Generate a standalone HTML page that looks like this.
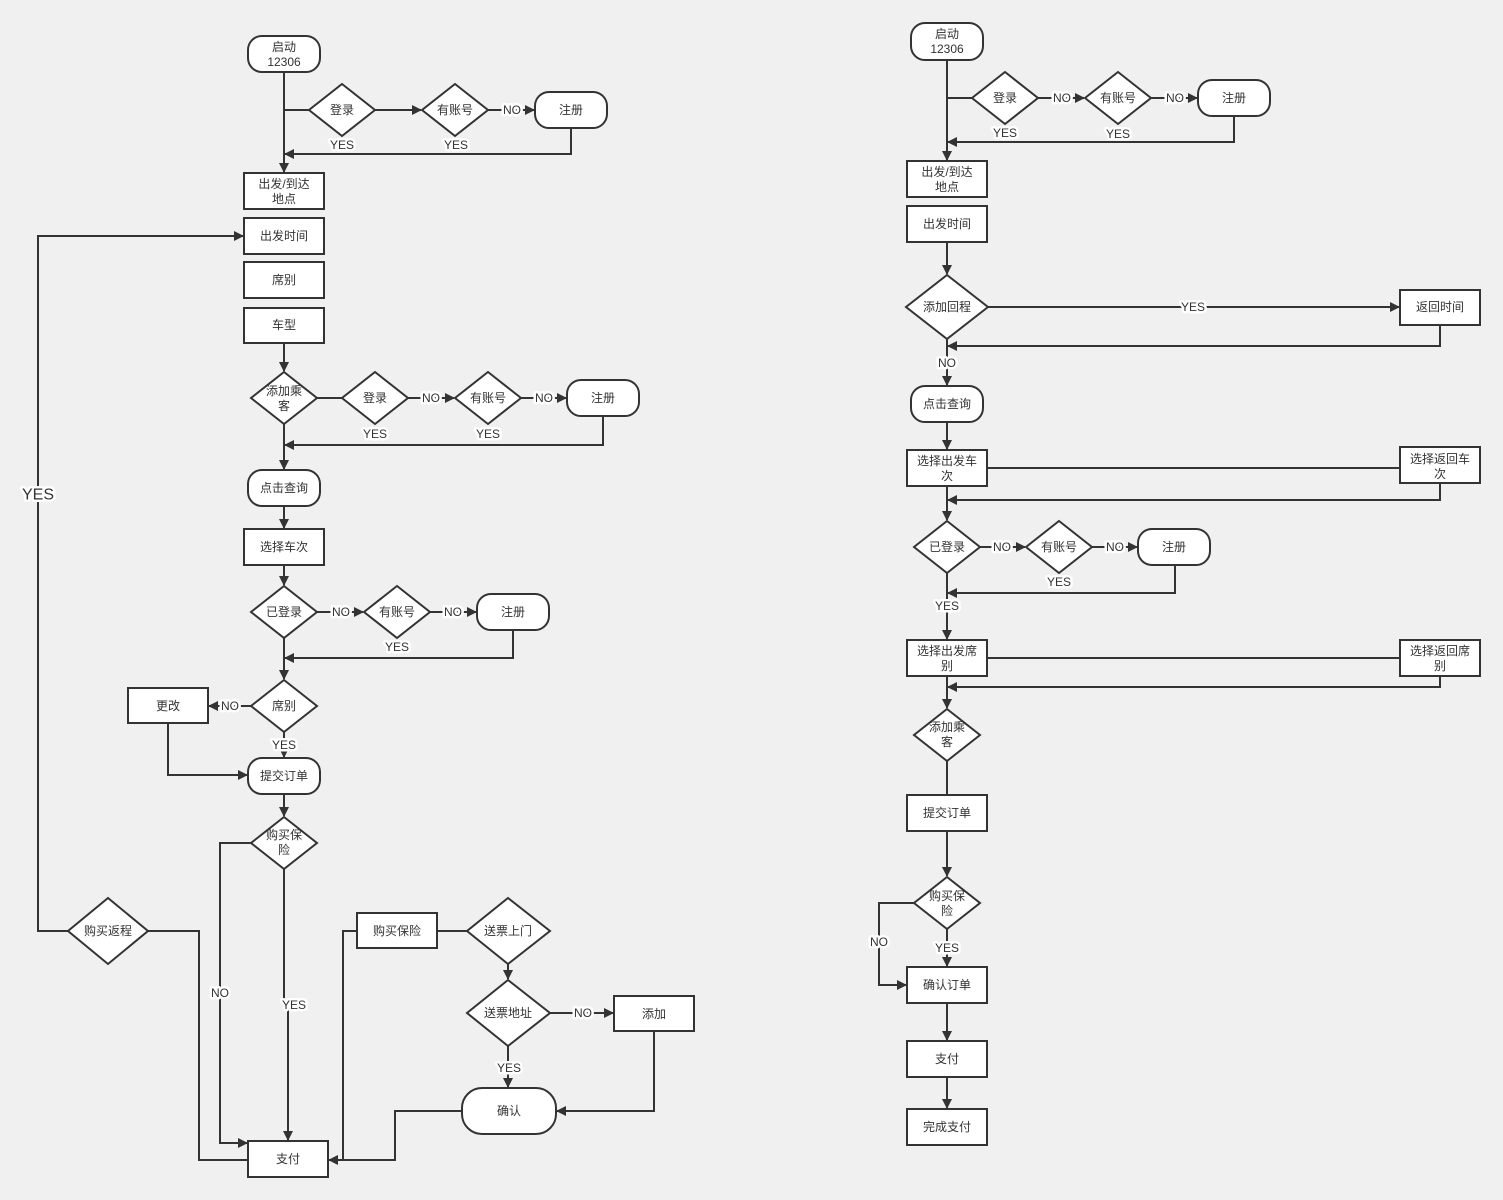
<!DOCTYPE html>
<html><head><meta charset="utf-8"><style>
html,body{margin:0;padding:0;background:#f0f0f0;}
svg{display:block}
text{font-family:"Liberation Sans","Noto Sans CJK SC",sans-serif;font-size:12px;fill:#333;text-anchor:middle;dominant-baseline:central}
.s{fill:#fff;stroke:#333;stroke-width:2}
.l{fill:none;stroke:#333;stroke-width:2}
.lb{stroke:#fff;stroke-width:5;paint-order:stroke;stroke-linejoin:round}
</style></head><body>
<svg width="1503" height="1200" viewBox="0 0 1503 1200" xmlns="http://www.w3.org/2000/svg">
<defs><marker id="a" markerWidth="10" markerHeight="10" refX="9" refY="5" orient="auto" markerUnits="userSpaceOnUse"><path d="M0,0 L10,5 L0,10 z" fill="#333"/></marker></defs>
<rect width="1503" height="1200" fill="#f0f0f0"/>

<!-- LEFT connectors -->
<path class="l" d="M284,72 V172" marker-end="url(#a)"/>
<path class="l" d="M284,110 H309"/>
<path class="l" d="M375,110 H421" marker-end="url(#a)"/>
<path class="l" d="M488,110 H534" marker-end="url(#a)"/>
<path class="l" d="M571,128 V154 H285" marker-end="url(#a)"/>
<path class="l" d="M284,343 V371" marker-end="url(#a)"/>
<path class="l" d="M317,398 H342"/>
<path class="l" d="M408,398 H454" marker-end="url(#a)"/>
<path class="l" d="M521,398 H566" marker-end="url(#a)"/>
<path class="l" d="M603,416 V445 H285" marker-end="url(#a)"/>
<path class="l" d="M284,424 V469" marker-end="url(#a)"/>
<path class="l" d="M284,506 V528" marker-end="url(#a)"/>
<path class="l" d="M284,565 V585" marker-end="url(#a)"/>
<path class="l" d="M317,612 H363" marker-end="url(#a)"/>
<path class="l" d="M430,612 H476" marker-end="url(#a)"/>
<path class="l" d="M513,630 V658 H285" marker-end="url(#a)"/>
<path class="l" d="M284,638 V679" marker-end="url(#a)"/>
<path class="l" d="M251,706 H209" marker-end="url(#a)"/>
<path class="l" d="M168,723 V775 H247" marker-end="url(#a)"/>
<path class="l" d="M284,732 V757" marker-end="url(#a)"/>
<path class="l" d="M284,794 V816" marker-end="url(#a)"/>
<path class="l" d="M251,843 H220 V1143 H247" marker-end="url(#a)"/>
<path class="l" d="M284,869 V1000 L288,1010 V1140" marker-end="url(#a)"/>
<path class="l" d="M68,931 H38 V236 H243" marker-end="url(#a)"/>
<path class="l" d="M148,931 H199 V1160 H248"/>
<path class="l" d="M357,931 H343 V1160"/>
<path class="l" d="M462,1111 H395 V1160 H329" marker-end="url(#a)"/>
<path class="l" d="M437,931 H467"/>
<path class="l" d="M508,964 V979" marker-end="url(#a)"/>
<path class="l" d="M550,1013 H613" marker-end="url(#a)"/>
<path class="l" d="M508,1046 V1087" marker-end="url(#a)"/>
<path class="l" d="M654,1031 V1111 H557" marker-end="url(#a)"/>

<!-- LEFT shapes -->
<rect class="s" x="248" y="36" width="72" height="36" rx="14"/>
<text x="284" y="47">启动</text><text x="284" y="62">12306</text>
<polygon class="s" points="342,84 375,110 342,136 309,110"/><text x="342" y="110">登录</text>
<polygon class="s" points="455,84 488,110 455,136 422,110"/><text x="455" y="110">有账号</text>
<rect class="s" x="535" y="92" width="72" height="36" rx="14"/><text x="571" y="110">注册</text>
<rect class="s" x="244" y="173" width="80" height="36"/><text x="284" y="184">出发/到达</text><text x="284" y="199">地点</text>
<rect class="s" x="244" y="218" width="80" height="36"/><text x="284" y="236">出发时间</text>
<rect class="s" x="244" y="262" width="80" height="36"/><text x="284" y="280">席别</text>
<rect class="s" x="244" y="308" width="80" height="35"/><text x="284" y="325">车型</text>
<polygon class="s" points="284,372 317,398 284,424 251,398"/><text x="284" y="391">添加乘</text><text x="284" y="406">客</text>
<polygon class="s" points="375,372 408,398 375,424 342,398"/><text x="375" y="398">登录</text>
<polygon class="s" points="488,372 521,398 488,424 455,398"/><text x="488" y="398">有账号</text>
<rect class="s" x="567" y="380" width="72" height="36" rx="14"/><text x="603" y="398">注册</text>
<rect class="s" x="248" y="470" width="72" height="36" rx="14"/><text x="284" y="488">点击查询</text>
<rect class="s" x="244" y="529" width="80" height="36"/><text x="284" y="547">选择车次</text>
<polygon class="s" points="284,586 317,612 284,638 251,612"/><text x="284" y="612">已登录</text>
<polygon class="s" points="397,586 430,612 397,638 364,612"/><text x="397" y="612">有账号</text>
<rect class="s" x="477" y="594" width="72" height="36" rx="14"/><text x="513" y="612">注册</text>
<polygon class="s" points="284,680 317,706 284,732 251,706"/><text x="284" y="706">席别</text>
<rect class="s" x="128" y="688" width="80" height="35"/><text x="168" y="706">更改</text>
<rect class="s" x="248" y="758" width="72" height="36" rx="14"/><text x="284" y="776">提交订单</text>
<polygon class="s" points="284,817 317,843 284,869 251,843"/><text x="284" y="835">购买保</text><text x="284" y="850">险</text>
<polygon class="s" points="108,898 148,931 108,964 68,931"/><text x="108" y="931">购买返程</text>
<rect class="s" x="357" y="913" width="80" height="35"/><text x="397" y="931">购买保险</text>
<polygon class="s" points="508,898 550,931 508,964 467,931"/><text x="508" y="931">送票上门</text>
<polygon class="s" points="508,980 550,1013 508,1046 467,1013"/><text x="508" y="1013">送票地址</text>
<rect class="s" x="614" y="996" width="80" height="35"/><text x="654" y="1014">添加</text>
<rect class="s" x="462" y="1088" width="94" height="46" rx="20"/><text x="509" y="1111">确认</text>
<rect class="s" x="248" y="1141" width="80" height="36"/><text x="288" y="1159">支付</text>

<!-- LEFT labels -->
<text class="lb" x="512" y="110">NO</text>
<text class="lb" x="342" y="145">YES</text><text class="lb" x="456" y="145">YES</text>
<text class="lb" x="431" y="398">NO</text><text class="lb" x="544" y="398">NO</text>
<text class="lb" x="375" y="434">YES</text><text class="lb" x="488" y="434">YES</text>
<text class="lb" x="341" y="612">NO</text><text class="lb" x="453" y="612">NO</text>
<text class="lb" x="397" y="647">YES</text>
<text class="lb" x="230" y="706">NO</text>
<text class="lb" x="284" y="745">YES</text>
<text class="lb" x="220" y="993">NO</text>
<text class="lb" x="294" y="1005">YES</text>
<text class="lb" x="38" y="495" style="font-size:16px">YES</text>
<text class="lb" x="583" y="1013">NO</text>
<text class="lb" x="509" y="1068">YES</text>

<!-- RIGHT connectors -->
<path class="l" d="M947,60 V160" marker-end="url(#a)"/>
<path class="l" d="M947,98 H972"/>
<path class="l" d="M1038,98 H1084" marker-end="url(#a)"/>
<path class="l" d="M1151,98 H1197" marker-end="url(#a)"/>
<path class="l" d="M1234,116 V142 H948" marker-end="url(#a)"/>
<path class="l" d="M947,242 V274" marker-end="url(#a)"/>
<path class="l" d="M988,307 H1399" marker-end="url(#a)"/>
<path class="l" d="M1440,325 V346 H948" marker-end="url(#a)"/>
<path class="l" d="M947,339 V385" marker-end="url(#a)"/>
<path class="l" d="M947,422 V449" marker-end="url(#a)"/>
<path class="l" d="M987,468 H1400"/>
<path class="l" d="M1440,483 V500 H948" marker-end="url(#a)"/>
<path class="l" d="M947,486 V520" marker-end="url(#a)"/>
<path class="l" d="M980,547 H1025" marker-end="url(#a)"/>
<path class="l" d="M1092,547 H1137" marker-end="url(#a)"/>
<path class="l" d="M1175,565 V593 H948" marker-end="url(#a)"/>
<path class="l" d="M947,573 V639" marker-end="url(#a)"/>
<path class="l" d="M987,658 H1400"/>
<path class="l" d="M1440,676 V687 H948" marker-end="url(#a)"/>
<path class="l" d="M947,676 V708" marker-end="url(#a)"/>
<path class="l" d="M947,761 V795"/>
<path class="l" d="M947,831 V876" marker-end="url(#a)"/>
<path class="l" d="M914,903 H879 V985 H906" marker-end="url(#a)"/>
<path class="l" d="M947,929 V966" marker-end="url(#a)"/>
<path class="l" d="M947,1003 V1040" marker-end="url(#a)"/>
<path class="l" d="M947,1077 V1108" marker-end="url(#a)"/>

<!-- RIGHT shapes -->
<rect class="s" x="911" y="23" width="72" height="37" rx="14"/>
<text x="947" y="34">启动</text><text x="947" y="49">12306</text>
<polygon class="s" points="1005,72 1038,98 1005,124 972,98"/><text x="1005" y="98">登录</text>
<polygon class="s" points="1118,72 1151,98 1118,124 1085,98"/><text x="1118" y="98">有账号</text>
<rect class="s" x="1198" y="80" width="72" height="36" rx="14"/><text x="1234" y="98">注册</text>
<rect class="s" x="907" y="161" width="80" height="36"/><text x="947" y="172">出发/到达</text><text x="947" y="187">地点</text>
<rect class="s" x="907" y="206" width="80" height="36"/><text x="947" y="224">出发时间</text>
<polygon class="s" points="947,275 988,307 947,339 906,307"/><text x="947" y="307">添加回程</text>
<rect class="s" x="1400" y="290" width="80" height="35"/><text x="1440" y="307">返回时间</text>
<rect class="s" x="911" y="386" width="72" height="36" rx="14"/><text x="947" y="404">点击查询</text>
<rect class="s" x="907" y="450" width="80" height="36"/><text x="947" y="461">选择出发车</text><text x="947" y="476">次</text>
<rect class="s" x="1400" y="447" width="80" height="36"/><text x="1440" y="459">选择返回车</text><text x="1440" y="474">次</text>
<polygon class="s" points="947,521 980,547 947,573 914,547"/><text x="947" y="547">已登录</text>
<polygon class="s" points="1059,521 1092,547 1059,573 1026,547"/><text x="1059" y="547">有账号</text>
<rect class="s" x="1138" y="529" width="72" height="36" rx="14"/><text x="1174" y="547">注册</text>
<rect class="s" x="907" y="640" width="80" height="36"/><text x="947" y="651">选择出发席</text><text x="947" y="666">别</text>
<rect class="s" x="1400" y="640" width="80" height="36"/><text x="1440" y="651">选择返回席</text><text x="1440" y="666">别</text>
<polygon class="s" points="947,709 980,735 947,761 914,735"/><text x="947" y="727">添加乘</text><text x="947" y="742">客</text>
<rect class="s" x="907" y="795" width="80" height="36"/><text x="947" y="813">提交订单</text>
<polygon class="s" points="947,877 980,903 947,929 914,903"/><text x="947" y="896">购买保</text><text x="947" y="911">险</text>
<rect class="s" x="907" y="967" width="80" height="36"/><text x="947" y="985">确认订单</text>
<rect class="s" x="907" y="1041" width="80" height="36"/><text x="947" y="1059">支付</text>
<rect class="s" x="907" y="1109" width="80" height="36"/><text x="947" y="1127">完成支付</text>

<!-- RIGHT labels -->
<text class="lb" x="1062" y="98">NO</text><text class="lb" x="1175" y="98">NO</text>
<text class="lb" x="1005" y="133">YES</text><text class="lb" x="1118" y="134">YES</text>
<text class="lb" x="1193" y="307">YES</text>
<text class="lb" x="947" y="363">NO</text>
<text class="lb" x="1002" y="547">NO</text><text class="lb" x="1115" y="547">NO</text>
<text class="lb" x="1059" y="582">YES</text>
<text class="lb" x="947" y="606">YES</text>
<text class="lb" x="879" y="942">NO</text>
<text class="lb" x="947" y="948">YES</text>
</svg>
</body></html>
